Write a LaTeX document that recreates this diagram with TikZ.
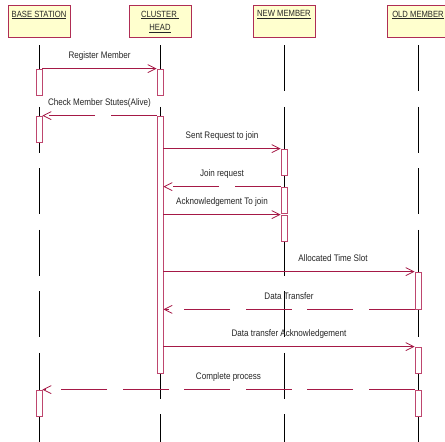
\documentclass[tikz,border=0pt]{standalone}
\usepackage{fontspec}
\newfontfamily\umlfont[FakeStretch=0.85]{Liberation Sans}
\definecolor{actorfill}{RGB}{255, 255, 206}
\definecolor{actorline}{RGB}{175, 45, 85}
\definecolor{actline}{RGB}{190, 70, 110}
\definecolor{msgred}{RGB}{165, 25, 70}
\usetikzlibrary{arrows.meta}

\begin{document}
\begin{tikzpicture}[x=1pt, y=-1pt,
    actor/.style={draw=actorline, fill=actorfill, line width=0.8pt, minimum width=62pt, minimum height=32pt, inner sep=0},
    actorname/.style={anchor=north, inner sep=0, yshift=-6pt, align=center, text=black!85, font=\umlfont\fontsize{9}{13.5}\selectfont},
    lifeline/.style={black, line width=0.7pt, dash pattern=on 46pt off 15.5pt},
    activation/.style={draw=actline, fill=white, line width=0.8pt, minimum width=6pt, inner sep=0},
    msg/.style={msgred, line width=0.8pt, -{Straight Barb[length=8pt, width=8pt]}},
    reply/.style={msg, dash pattern=on 46pt off 15.5pt},
    msglabel/.style={above=5.5pt, inner sep=2pt, text depth=2pt, text=black!85, font=\umlfont\fontsize{9.5}{11}\selectfont}]
  \useasboundingbox[fill=white] (0,0) rectangle (445,442);
  \coordinate (bottom) at (0,442);

  % Actors
  \node[actor] (bs) at (39,21) {};
  \node[actor] (ch) at (160,21) {};
  \node[actor] (nm) at (284,21) {};
  \node[actor] (om) at (418,21) {};
  \node[actorname] (bsName) at (bs.north) {\underline{BASE STATION}};
  \node[actorname] (chName) at (ch.north) {\underline{CLUSTER\ }\\\underline{HEAD}};
  \node[actorname] (nmName) at (nm.north) {\underline{NEW MEMBER}};
  \node[actorname] (omName) at (om.north) {\underline{OLD MEMBER}};

  % Lifelines
  \foreach \a in {bs, ch, nm, om}
    \draw[lifeline] ([yshift=-8pt]\a.south) -- (\a.south |- bottom);

  % Activation bars
  \node[activation, minimum height=26pt] (bsAct1) at (39,82) {};
  \node[activation, minimum height=26pt] (bsAct2) at (39,129) {};
  \node[activation, minimum height=26pt] (bsAct3) at (39,403) {};
  \node[activation, minimum height=26pt] (chAct1) at (160,82) {};
  \node[activation, minimum height=257pt] (chAct2) at (160,244.5) {};
  \node[activation, minimum height=26pt] (nmAct1) at (284,162) {};
  \node[activation, minimum height=26pt] (nmAct2) at (284,200) {};
  \node[activation, minimum height=26pt] (nmAct3) at (284,228) {};
  \node[activation, minimum height=37pt] (omAct1) at (418,290.5) {};
  \node[activation, minimum height=26pt] (omAct2) at (418,360) {};
  \node[activation, minimum height=26pt] (omAct3) at (418,403) {};

  % Messages
  \draw[msg] (bsAct1.north east) -- node[midway, msglabel] {Register Member} (chAct1.north west);
  \draw[reply] (chAct2.north west) -- node[midway, msglabel] {Check Member Stutes(Alive)} (bsAct2.north east);
  \draw[msg] (chAct2.east |- nmAct1.north) -- node[midway, msglabel] {Sent Request to join} (nmAct1.north west);
  \draw[reply] (nmAct2.north west) -- node[midway, msglabel] {Join request} (chAct2.east |- nmAct2.north);
  \draw[msg] (chAct2.east |- nmAct3.north) -- node[midway, msglabel] {Acknowledgement To join} (nmAct3.north west);
  \draw[msg] (chAct2.east |- omAct1.north) -- node[pos=0.675, msglabel] {Allocated Time Slot} (omAct1.north west);
  \draw[reply] (omAct1.south west) -- node[midway, msglabel] {Data Transfer} (chAct2.east |- omAct1.south);
  \draw[msg] (chAct2.east |- omAct2.north) -- node[midway, msglabel] {Data transfer Acknowledgement} (omAct2.north west);
  \draw[reply] (omAct3.north west) -- node[midway, msglabel] {Complete process} (bsAct3.north east);
\end{tikzpicture}
\end{document}
